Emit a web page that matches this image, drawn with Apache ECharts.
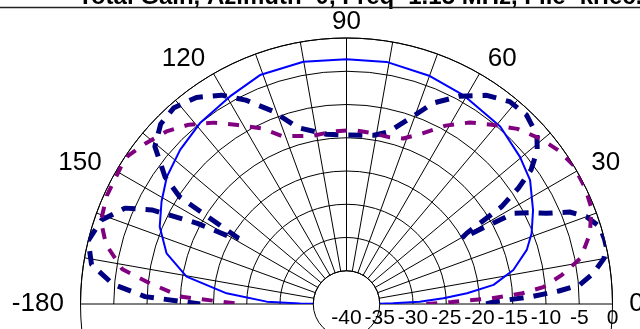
<!DOCTYPE html>
<html>
<head>
<meta charset="utf-8">
<script src="https://cdn.jsdelivr.net/npm/echarts@6/dist/echarts.min.js"></script>
<style>
html,body{margin:0;padding:0;background:#fff;}
#c{width:640px;height:329px;}
</style>
</head>
<body>
<div id="c"></div>
<script>
const titleText = 'Total Gain, Azimuth=0, Freq=1.15 MHz, File=kriec.ez';

const angleTicks = [0, 30, 60, 90, 120, 150, 180];
const angleTickLabels = ['0', '30', '60', '90', '120', '150', '-180'];
const radialTicks = [-40, -35, -30, -25, -20, -15, -10, -5, 0];
const labelRadius = 2.5;

const blueAngles = [0, 1, 1.8, 3.4, 5.1, 7.4, 11.5, 16.7, 20.9, 26.7, 34, 40.3, 49.1, 60.8, 69.9, 80.6, 90, 100.1, 110.7, 119.3, 129, 137.2, 144.7, 151, 157.5, 164.3, 170.3, 174.9, 178.3, 179.3, 180];
const blueGain = [-36, -33, -29, -25.4, -21.8, -17.7, -14.4, -11.7, -10.2, -8.6, -6.7, -5.8, -4.7, -4.0, -3.5, -3.1, -3.2, -3.0, -3.2, -4.2, -5.0, -5.9, -6.9, -8.2, -9.6, -11.9, -15.6, -21.9, -28, -33, -36.5];

const navyAngles = [0, 0.9, 2.3, 3.5, 4.7, 7.1, 10, 12.4, 14.2, 17, 20, 22.4, 24.4, 26.5, 28.5, 29.7, 30.5, 32.1, 34, 36, 38.8, 41.6, 46.4, 51.1, 56.1, 61.4, 66.7, 71.1, 76.4, 80.8, 90, 96.7, 105.4, 111, 116.3, 120.9, 126, 131.3, 135.9, 140.6, 145, 147.3, 148.7, 150, 151.6, 154.2, 156.6, 161.1, 166.2, 171.2, 175.2, 177.9, 180];
const navyGain = [-19, -17.7, -12.1, -8, -4.8, -2.6, -0.7, 0, 0, -0.2, -1.6, -3.7, -7, -9.2, -11.4, -20, -19, -12.5, -8.8, -5.7, -3.2, -1.7, -0.75, -0.9, -2.2, -4.4, -7.1, -10.5, -13.4, -14.3, -14.6, -14.3, -12.5, -8.9, -5.8, -3.4, -1.6, -0.7, -1.1, -2.7, -6.7, -10.2, -21, -19.8, -14.5, -7.5, -3.7, -1.05, 0, -1.2, -4.8, -9.7, -18];

const purpleAngles = [0, 1.1, 2.2, 3.5, 4.9, 7.7, 11.1, 16.1, 21.4, 25.9, 31.4, 35.8, 40.5, 45.7, 51, 55.8, 60.9, 66, 71.1, 75.4, 82, 88, 95, 101.3, 110.9, 115.7, 121.3, 126.2, 131.3, 136.2, 141.5, 145.9, 148.6, 155.6, 161.3, 166.1, 171.2, 174, 177.5, 180];
const purpleGain = [-28, -24.2, -18.2, -13.5, -10.3, -7.3, -4.1, -1.9, -0.45, -0.1, 0, -0.6, -1.7, -3.2, -5.3, -7.0, -9.3, -11.9, -13.7, -14.1, -14.0, -13.8, -14.0, -14.2, -13.0, -10.7, -8.5, -6.2, -4.1, -2.5, -1.3, -0.3, -0.3, -0.45, -1.0, -2.75, -5.9, -10.3, -15.2, -24];

function zip(gain, ang) { return gain.map((g, i) => [g, ang[i]]); }

const chart = echarts.init(document.getElementById('c'));
const FONT = 'Liberation Sans, Arial, sans-serif';

const angleLabelData = angleTicks.map((a, i) => {
  const c = Math.cos(a * Math.PI / 180);
  return {
    value: [labelRadius, a],
    name: angleTickLabels[i],
    label: { align: c > 0.3 ? 'left' : (c < -0.3 ? 'right' : 'center') }
  };
});
const radialLabelData = radialTicks.map(v => ({ value: [v, 0], name: String(v) }));

chart.setOption({
  animation: false,
  backgroundColor: '#ffffff',
  polar: { center: [346.5, 304], radius: [33.25, 266] },
  angleAxis: {
    type: 'value', min: 0, max: 180, interval: 10,
    startAngle: 0, endAngle: 180, clockwise: false,
    axisLine: { show: true, lineStyle: { color: '#000', width: 1 } },
    axisTick: { show: false },
    axisLabel: { show: false },
    splitLine: { show: true, lineStyle: { color: '#000', width: 1 } }
  },
  radiusAxis: {
    type: 'value', min: -35, max: 0, interval: 5,
    axisLine: { show: false },
    axisTick: { show: false },
    axisLabel: { show: false },
    splitLine: { show: true, lineStyle: { color: '#000', width: 1 } }
  },
  graphic: [
    { type: 'text', x: 78, y: 9, z: 100,
      style: { text: titleText, font: 'bold 24px ' + FONT, fill: '#000', verticalAlign: 'bottom', align: 'left' } },
    { type: 'line', z: 101, shape: { x1: 0, y1: 7.5, x2: 640, y2: 7.5 }, style: { stroke: '#222', lineWidth: 1.5 } }
  ],
  series: [
    { type: 'line', coordinateSystem: 'polar', clip: false, showSymbol: false, symbol: 'none', z: 3,
      data: zip(blueGain, blueAngles),
      lineStyle: { color: '#0000ff', width: 2 } },
    { type: 'line', coordinateSystem: 'polar', clip: false, showSymbol: false, symbol: 'none', z: 4,
      data: zip(navyGain, navyAngles),
      lineStyle: { color: '#000080', width: 5, type: [14, 10], cap: 'butt' } },
    { type: 'line', coordinateSystem: 'polar', clip: false, showSymbol: false, symbol: 'none', z: 5,
      data: zip(purpleGain, purpleAngles),
      lineStyle: { color: '#800080', width: 4, type: [11, 11], cap: 'butt' } },
    { type: 'scatter', coordinateSystem: 'polar', clip: false, silent: true, symbolSize: 0, z: 6,
      itemStyle: { opacity: 1 },
      data: angleLabelData,
      label: { show: true, position: 'inside', formatter: p => p.name, color: '#000', opacity: 1,
        fontSize: 26, fontFamily: FONT, verticalAlign: 'middle', textBorderWidth: 0 } },
    { type: 'scatter', coordinateSystem: 'polar', clip: false, silent: true, symbolSize: 0, z: 6,
      itemStyle: { opacity: 1 },
      data: radialLabelData,
      label: { show: true, position: 'bottom', distance: 4, formatter: p => p.name, color: '#000', opacity: 1,
        fontSize: 21, fontFamily: FONT, textBorderWidth: 0 } }
  ]
});
</script>
</body>
</html>
